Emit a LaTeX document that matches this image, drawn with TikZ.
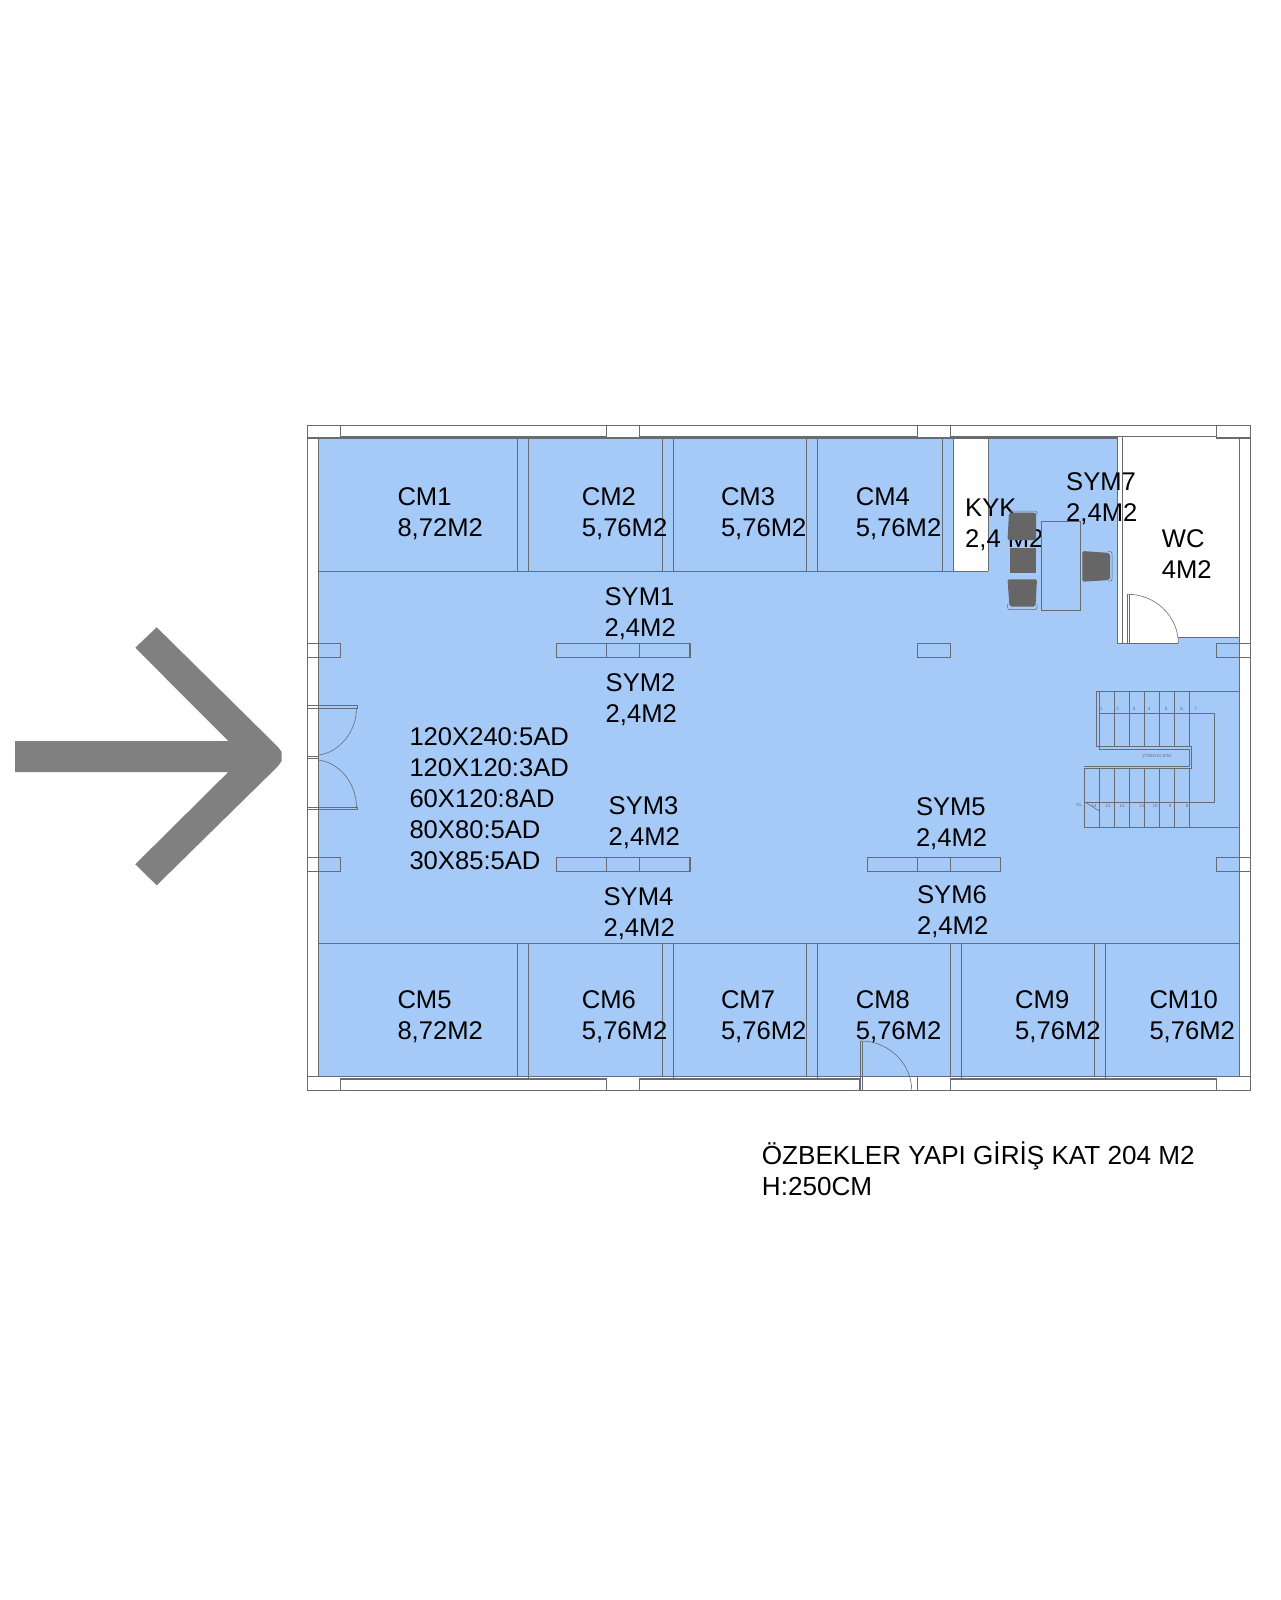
\documentclass[tikz,border=0pt]{standalone}
\usepackage{fontspec}
\setmainfont{Liberation Sans}
\usepackage{xcolor}
\definecolor{roomblue}{HTML}{A6CAF8}
\definecolor{wallgrey}{HTML}{666C72}
\definecolor{chairgrey}{HTML}{666666}
\definecolor{arrowgrey}{HTML}{808080}
\tikzset{
  wall/.style = {draw=wallgrey, line width=1.1pt},
  swing/.style = {draw=wallgrey, line width=0.6pt},
  leaf/.style = {draw=wallgrey, line width=0.8pt},% kapi kanadi
  pier/.style = {wall, fill=roomblue},
  stair/.style = {draw=wallgrey, line width=1.1pt},
  seat/.style = {fill=chairgrey, rounded corners=2pt},
  seatback/.style = {draw=wallgrey, line width=0.5pt, rounded corners=2pt},% arka
  roomlabel/.style = {anchor=base west, inner sep=0pt, align=left, text=black,
    font=\fontsize{25.6}{31}\selectfont},
  stepno/.style = {inner sep=0pt, text=wallgrey, font=\fontsize{4.5}{5}\selectfont}
}

\begin{document}
\begin{tikzpicture}[x=1pt,y=-1pt]
\useasboundingbox (0,0) rectangle (1280,1600);
\fill[white] (0,0) rectangle (1280,1600);

% ok
\fill[arrowgrey] (15,741) -- (228.3,741) -- (135.3,647.7) -- (156.7,627.3)
  -- (277.7,746.7) -- (281.7,752) -- (281.7,761) -- (277.7,766.5) -- (156.7,885.3)
  -- (135.3,864.3) -- (228.3,772) -- (15,772) -- cycle;

% zemin
\fill[roomblue] (318.3,438) rectangle (1239.3,1076.3);
\fill[white] (953.3,438) rectangle (988.3,571.3);
\fill[white] (1117.3,436.7) rectangle (1178.3,643.3);
\fill[white] (1178.3,436.7) rectangle (1239.3,637.7);

% dis duvar
\draw[wall] (307.5,425.3) rectangle (1250.5,1090.3);
\draw[wall] (307.5,438) -- (340.7,438);
\draw[wall] (1216.3,438) -- (1250.5,438);
\draw[wall] (318.3,438) -- (318.3,1076.3);
\draw[wall] (1239.3,438) -- (1239.3,1076.3);
\draw[wall] (307.5,1076.3) -- (1250.5,1076.3);
\draw[wall] (340.7,438) -- (1117.3,438);
\foreach \xa/\xb in {340.7/606.3, 639.7/917.3, 950.7/1216.3}
  \draw[wall] (\xa,425.3) -- (\xa,436.7) -- (\xb,436.7) -- (\xb,425.3);
\foreach \xa/\xb in {340.7/606.3, 639.7/860, 950.3/1216.3}
  \draw[wall] (\xa,1090.3) -- (\xa,1079) -- (\xb,1079) -- (\xb,1090.3);
\draw[wall] (917.3,1076.3) -- (917.3,1090.3);

% bolmeler
\foreach \xa/\xb in {517.7/528.7, 662.3/673.3, 806.5/817.5, 942.3/953.3} {
  \draw[wall] (\xa,438) -- (\xa,571.3);
  \draw[wall] (\xb,438) -- (\xb,571.3);
}
\foreach \xa/\xb in {517.7/528.7, 662.3/673.3, 806.5/817.5, 950.3/961.3, 1094.3/1105.3} {
  \draw[wall] (\xa,943.3) -- (\xa,1076.3);
  \draw[wall] (\xb,943.3) -- (\xb,1079);
}
\draw[wall] (318.3,571.3) -- (988.3,571.3);
\draw[wall] (988.3,438) -- (988.3,571.3);
\draw[wall] (318.3,943.3) -- (1239.3,943.3);

% wc
\draw[wall] (1117.3,436.7) -- (1117.3,643.3) -- (1178.3,643.3);
\draw[wall] (1122.3,436.7) -- (1122.3,643.3);
\draw[wall] (1178.3,637.7) -- (1239.3,637.7);

% kolonlar
\foreach \ya in {643.3, 857.3} {
  \draw[wall] (307.5,\ya) -- (340.7,\ya) -- (340.7,\ya+14) -- (307.5,\ya+14);
  \draw[wall] (1250.5,\ya) -- (1216.3,\ya) -- (1216.3,\ya+14) -- (1250.5,\ya+14);
  \draw[pier] (556.3,\ya) rectangle (690,\ya+14);
  \draw[wall] (606.3,\ya) -- (606.3,\ya+14);
  \draw[wall] (639.7,\ya) -- (639.7,\ya+14);
}
\draw[pier] (917.3,643.3) rectangle (950.7,657.3);
\draw[pier] (867.5,857.3) rectangle (1000.6,871.3);
\draw[wall] (917.3,857.3) -- (917.3,871.3);
\draw[wall] (950.7,857.3) -- (950.7,871.3);

% kapilar
\draw[leaf] (307.5,705.3) -- (357.7,705.3) -- (357.7,708) -- (307.5,708);
\draw[leaf] (307.5,807.3) -- (357.7,807.3) -- (357.7,809.7) -- (307.5,809.7);
\draw[swing] (307.5,756) -- (318.3,756);
\draw[swing] (307.5,758.7) -- (318.3,758.7);
\draw[swing] (356.5,708) .. controls (356.5,733) and (338,753) .. (318.3,755);
\draw[swing] (356.5,807.3) .. controls (356.5,782) and (338,762) .. (318.3,760);
\fill[white] (862.5,1076.8) rectangle (916.8,1089.8);
\draw[leaf] (860,1041) -- (860,1090.3);
\draw[leaf] (862,1041) -- (862,1090.3);
\draw[swing] (861,1041) .. controls (888,1041) and (911.7,1063) .. (911.7,1090.3);
\draw[leaf] (1127.3,594.3) -- (1127.3,643.3);
\draw[leaf] (1129,594.3) -- (1129,643.3);
\draw[swing] (1128,594.3) .. controls (1155,594.3) and (1178.3,616) .. (1178.3,643.3);

% merdiven
\draw[stair] (1239.3,691.3) -- (1096.7,691.3) -- (1096.7,746.7) -- (1191.3,746.7)
  -- (1191.3,768.3) -- (1084.3,768.3) -- (1084.3,827.3) -- (1239.3,827.3);
\draw[stair] (1099.3,691.3) -- (1099.3,749.3) -- (1189.3,749.3) -- (1189.3,766.3)
  -- (1084.3,766.3);
\draw[stair] (1099.3,713.3) -- (1214.3,713.3) -- (1214.3,802.3) -- (1084.3,802.3);
\foreach \xa in {1114.3,1129.3,...,1189.3} {
  \draw[stair] (\xa,691.3) -- (\xa,746.7);
  \draw[stair] (\xa,768.3) -- (\xa,827.3);
}
\draw[stair] (1099.3,768.3) -- (1099.3,827.3);
\draw[swing] (1085,802) -- (1099.3,811);
\foreach \xa/\nn in {1101.5/1, 1117.5/2, 1134/3, 1149/4, 1166/5, 1181.5/6, 1195.5/7}
  \node[stepno] at (\xa,709) {\nn};
\foreach \xa/\nn in {1094/14, 1108/13, 1122/12, 1142/11, 1155/10, 1170/9, 1187/8}
  \node[stepno] at (\xa,806) {\nn};
\node[stepno] (landing) at (1157,756) {2792X/10.0/51};
\node[stepno] (upmark) at (1079,805) {GL};

% yazilar, y = son satir
\node[roomlabel] (cm1) at (397.3,536.3) {CM1\\8,72M2};
\node[roomlabel] (cm2) at (581.7,536.3) {CM2\\5,76M2};
\node[roomlabel] (cm3) at (720.8,536.3) {CM3\\5,76M2};
\node[roomlabel] (cm4) at (855.7,536.3) {CM4\\5,76M2};
\node[roomlabel] (kyk) at (965,547.3) {KYK\\2,4 M2};
\node[roomlabel] (sym7) at (1066,521.5) {SYM7\\2,4M2};
\node[roomlabel] (wc) at (1161.7,578.7) {WC\\4M2};
\node[roomlabel] (sym1) at (604.4,636.3) {SYM1\\2,4M2};
\node[roomlabel] (sym2) at (605.5,722) {SYM2\\2,4M2};
\node[roomlabel] (sym3) at (608.5,845.6) {SYM3\\2,4M2};
\node[roomlabel] (sym4) at (603.4,936.4) {SYM4\\2,4M2};
\node[roomlabel] (sym5) at (915.8,846.6) {SYM5\\2,4M2};
\node[roomlabel] (sym6) at (916.9,934.4) {SYM6\\2,4M2};
\node[roomlabel] (sizes) at (409.3,869) {120X240:5AD\\120X120:3AD\\60X120:8AD\\80X80:5AD\\30X85:5AD};
\node[roomlabel] (cm5) at (397.3,1039.7) {CM5\\8,72M2};
\node[roomlabel] (cm6) at (581.7,1039.7) {CM6\\5,76M2};
\node[roomlabel] (cm7) at (720.8,1039.7) {CM7\\5,76M2};
\node[roomlabel] (cm8) at (855.7,1039.7) {CM8\\5,76M2};
\node[roomlabel] (cm9) at (1015,1039.7) {CM9\\5,76M2};
\node[roomlabel] (cm10) at (1149.3,1039.7) {CM10\\5,76M2};
\node[roomlabel, font=\fontsize{26.1}{31}\selectfont] (title) at (761.7,1195.8) {ÖZBEKLER YAPI GİRİŞ KAT 204 M2\\H:250CM};

% masa ve sandalyeler
\draw[wall] (1041.3,521.3) rectangle (1080.7,610.7);
\fill[seat] (1009,512.7) -- (1036,512.7) -- (1036,540) -- (1007.5,540) -- cycle;
\draw[seatback] (1010,515) -- (1010,511) -- (1037,511) -- (1037,515);
\fill[chairgrey] (1010,547.7) rectangle (1036,572.7);
\fill[seat] (1007.5,579.3) -- (1037,579.3) -- (1035.5,606.7) -- (1009.5,606.7) -- cycle;
\draw[seatback] (1007.5,604) -- (1007.5,609.5) -- (1037,609.5) -- (1037,604);
\fill[seat] (1082.3,551) -- (1110,553) -- (1110,580) -- (1082.3,581.7) -- cycle;
\draw[seatback] (1108,551.5) -- (1112,551.5) -- (1112,581) -- (1108,581);
\end{tikzpicture}
\end{document}
